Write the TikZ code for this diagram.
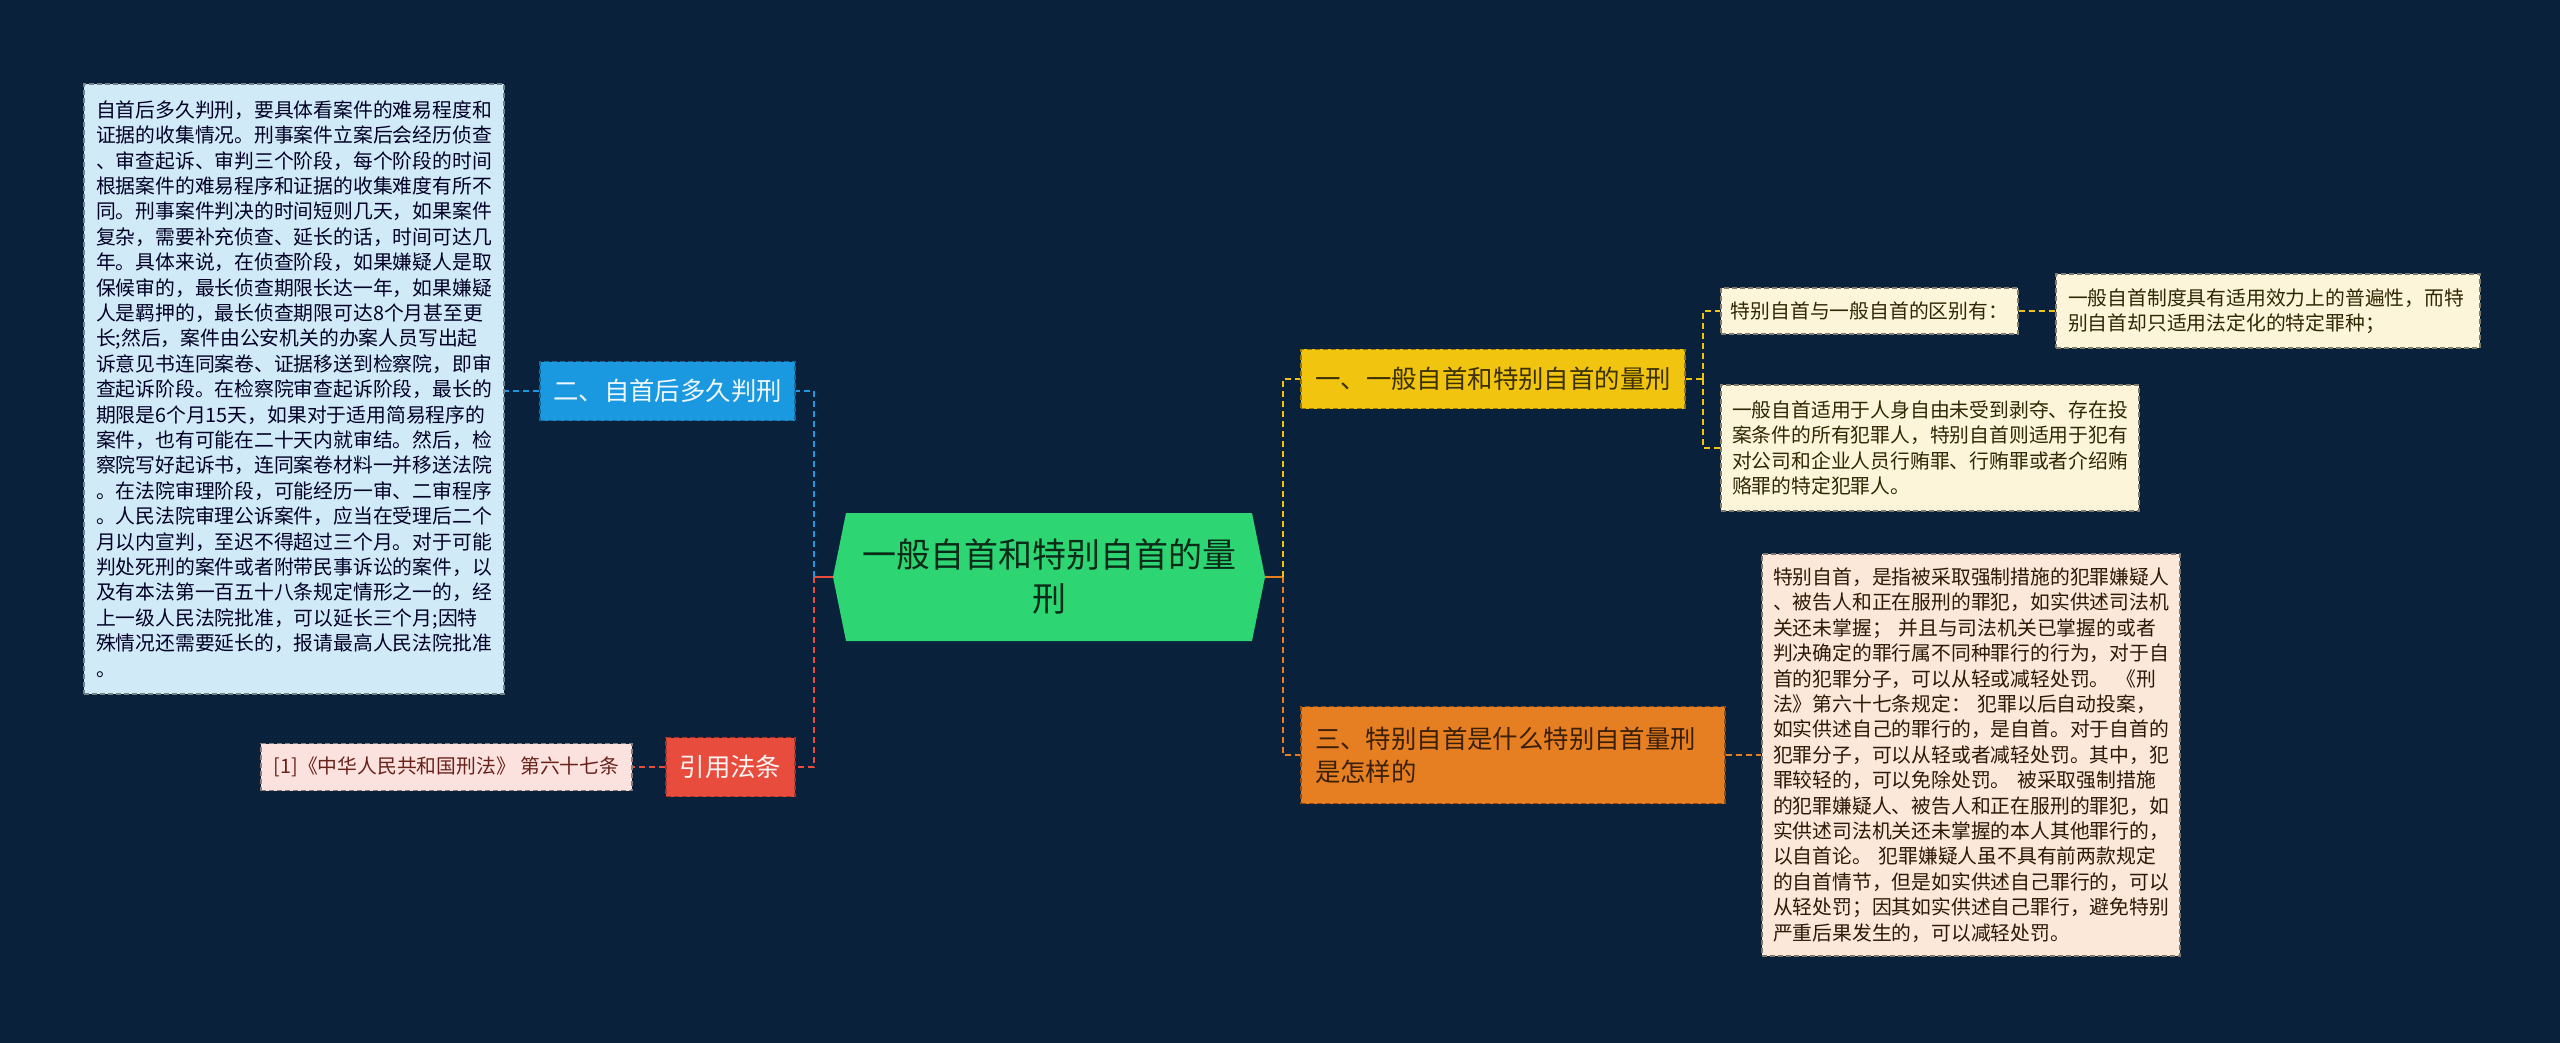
\documentclass[tikz,border=0pt]{standalone}
\usepackage{fontspec}
\setmainfont{Noto Sans CJK SC}
\usepackage{tikz}
\usetikzlibrary{shapes.symbols}
\definecolor{mapbg}{RGB}{10,33,60}
\definecolor{rootgreen}{RGB}{46,213,115}
\definecolor{branchblue}{RGB}{26,152,224}
\definecolor{branchred}{RGB}{231,76,60}
\definecolor{branchyellow}{RGB}{241,196,15}
\definecolor{branchorange}{RGB}{230,126,34}
\definecolor{leafblue}{RGB}{209,234,247}
\definecolor{leafpink}{RGB}{252,226,222}
\definecolor{leafyellow}{RGB}{253,245,218}
\definecolor{leaforange}{RGB}{251,232,216}
\tikzset{
    mapbase/.style={
        rectangle,
        draw,
        line width=0.7pt,
        dash pattern=on 2.5pt off 1.5pt,
        inner sep=0pt,
        align=center
    },
    rootnode/.style={
        signal, signal to=west and east, signal pointer angle=157,
        fill=rootgreen, draw=none,
        minimum width=216pt, minimum height=64pt, inner sep=0pt,
        align=center, text=rootgreen!20!black,
        font=\fontsize{17pt}{22pt}\selectfont
    },
    branchbase/.style={mapbase, minimum height=29.5pt, font=\fontsize{12.7pt}{16.5pt}\selectfont},
    bluenode/.style={branchbase, fill=branchblue, draw=branchblue!70!black, text=white!92!branchblue},
    rednode/.style={branchbase, fill=branchred, draw=branchred!70!black, text=white!94!branchred},
    yellownode/.style={branchbase, fill=branchyellow, draw=branchyellow!60!black, text=branchyellow!25!black},
    orangenode/.style={branchbase, fill=branchorange, draw=branchorange!60!black, text=branchorange!25!black},
    leafbase/.style={mapbase, font=\fontsize{9.9pt}{12.7pt}\selectfont},
    blueleaf/.style={leafbase, fill=leafblue, draw=leafblue!55!black, text=black!85!blue},
    pinkleaf/.style={leafbase, fill=leafpink, draw=leafpink!55!black, text=branchred!45!black},
    yellowleaf/.style={leafbase, fill=leafyellow, draw=leafyellow!50!black, text=branchyellow!20!black},
    orangeleaf/.style={leafbase, fill=leaforange, draw=leaforange!50!black, text=branchorange!20!black},
    mapline/.style={line width=1.35pt, dash pattern=on 3pt off 2pt},
    blueline/.style={mapline, draw=branchblue},
    redline/.style={mapline, draw=branchred},
    yellowline/.style={mapline, draw=branchyellow},
    orangeline/.style={mapline, draw=branchorange},
}
\begin{document}
\begin{tikzpicture}[x=0.5pt, y=-0.5pt]
    \fill[mapbg] (0,0) rectangle (2560,1043);
    \useasboundingbox (0,0) rectangle (2560,1043);

    \node[rootnode] (root) at (1049,577) {一般自首和特别自首的量\\刑};

    % left side
    \node[bluenode, minimum width=127.5pt] (howlong) at (667.5,391) {二、自首后多久判刑};
    \node[blueleaf, align=left, text width=198pt, inner xsep=6pt, minimum height=305pt] (howlongtext) at (294,389) {自首后多久判刑，要具体看案件的难易程度和\\证据的收集情况。刑事案件立案后会经历侦查\\、审查起诉、审判三个阶段，每个阶段的时间\\根据案件的难易程序和证据的收集难度有所不\\同。刑事案件判决的时间短则几天，如果案件\\复杂，需要补充侦查、延长的话，时间可达几\\年。具体来说，在侦查阶段，如果嫌疑人是取\\保候审的，最长侦查期限长达一年，如果嫌疑\\人是羁押的，最长侦查期限可达8个月甚至更\\长;然后，案件由公安机关的办案人员写出起\\诉意见书连同案卷、证据移送到检察院，即审\\查起诉阶段。在检察院审查起诉阶段，最长的\\期限是6个月15天，如果对于适用简易程序的\\案件，也有可能在二十天内就审结。然后，检\\察院写好起诉书，连同案卷材料一并移送法院\\。在法院审理阶段，可能经历一审、二审程序\\。人民法院审理公诉案件，应当在受理后二个\\月以内宣判，至迟不得超过三个月。对于可能\\判处死刑的案件或者附带民事诉讼的案件，以\\及有本法第一百五十八条规定情形之一的，经\\上一级人民法院批准，可以延长三个月;因特\\殊情况还需要延长的，报请最高人民法院批准\\。};
    \node[rednode, minimum width=64.5pt] (cite) at (730.5,767) {引用法条};
    \node[pinkleaf, minimum width=185.5pt, minimum height=23.5pt] (citetext) at (446.5,767) {[1]《中华人民共和国刑法》 第六十七条};

    % right side
    \node[yellownode, minimum width=192pt] (sentence) at (1493,379) {一、一般自首和特别自首的量刑};
    \node[yellowleaf, minimum width=148.5pt, minimum height=23pt] (diff) at (1869.5,311) {特别自首与一般自首的区别有：};
    \node[yellowleaf, align=left, text width=200pt, inner xsep=6pt, minimum height=37pt] (general) at (2268,311) {一般自首制度具有适用效力上的普遍性，而特\\别自首却只适用法定化的特定罪种；};
    \node[yellowleaf, align=left, text width=198pt, inner xsep=5.5pt, minimum height=63pt] (scope) at (1930,448) {一般自首适用于人身自由未受到剥夺、存在投\\案条件的所有犯罪人，特别自首则适用于犯有\\对公司和企业人员行贿罪、行贿罪或者介绍贿\\赂罪的特定犯罪人。};
    \node[orangenode, align=left, text width=198pt, inner xsep=7pt, minimum height=48.5pt] (whatis) at (1513,755) {三、特别自首是什么特别自首量刑\\是怎样的};
    \node[orangeleaf, align=left, text width=198pt, inner xsep=5.5pt, minimum height=201pt] (whatistext) at (1971,755) {特别自首，是指被采取强制措施的犯罪嫌疑人\\、被告人和正在服刑的罪犯，如实供述司法机\\关还未掌握； 并且与司法机关已掌握的或者\\判决确定的罪行属不同种罪行的行为，对于自\\首的犯罪分子，可以从轻或减轻处罚。 《刑\\法》第六十七条规定： 犯罪以后自动投案，\\如实供述自己的罪行的，是自首。对于自首的\\犯罪分子，可以从轻或者减轻处罚。其中，犯\\罪较轻的，可以免除处罚。 被采取强制措施\\的犯罪嫌疑人、被告人和正在服刑的罪犯，如\\实供述司法机关还未掌握的本人其他罪行的，\\以自首论。 犯罪嫌疑人虽不具有前两款规定\\的自首情节，但是如实供述自己罪行的，可以\\从轻处罚；因其如实供述自己罪行，避免特别\\严重后果发生的，可以减轻处罚。};

    \coordinate (lfork) at (814,577);
    \coordinate (rfork) at (1283,577);
    \coordinate (yfork) at (1703,379);

    \draw[redline, solid] (root.west) -- (lfork);
    \draw[blueline] (lfork) |- (howlong.east);
    \draw[redline] (lfork) |- (cite.east);
    \draw[blueline] (howlong.west) -- (howlongtext.east |- howlong.west);
    \draw[redline] (cite.west) -- (citetext.east);

    \draw[orangeline, solid] (root.east) -- (rfork);
    \draw[yellowline] (rfork) |- (sentence.west);
    \draw[orangeline] (rfork) |- (whatis.west);
    \draw[yellowline] (sentence.east) -- (yfork);
    \draw[yellowline] (yfork) |- (diff.west);
    \draw[yellowline] (yfork) |- (scope.west);
    \draw[yellowline] (diff.east) -- (general.west);
    \draw[orangeline] (whatis.east) -- (whatistext.west);
\end{tikzpicture}
\end{document}
